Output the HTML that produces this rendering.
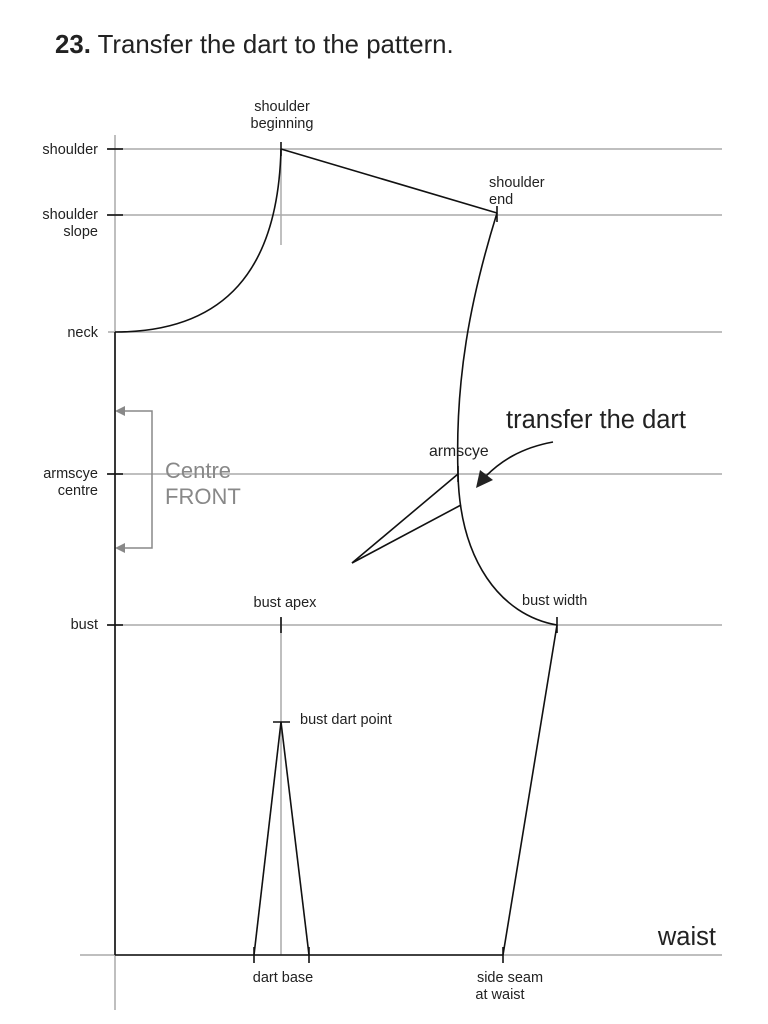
<!DOCTYPE html>
<html><head><meta charset="utf-8"><style>
html,body{margin:0;padding:0;background:#fff;}
svg{display:block;}
text{font-family:"Liberation Sans",Arial,sans-serif;fill:#222;}
</style></head><body>
<svg width="768" height="1024" viewBox="0 0 768 1024" xmlns="http://www.w3.org/2000/svg">
<text x="55" y="53" font-size="25.8"><tspan font-weight="bold">23.</tspan> Transfer the dart to the pattern.</text>
<g stroke="#aaa" stroke-width="1.5" fill="none">
<line x1="108" y1="149" x2="722" y2="149"/>
<line x1="108" y1="215" x2="722" y2="215"/>
<line x1="108" y1="332" x2="722" y2="332"/>
<line x1="108" y1="474" x2="722" y2="474"/>
<line x1="108" y1="625" x2="722" y2="625"/>
<line x1="80" y1="955" x2="722" y2="955"/>
<line x1="115" y1="135" x2="115" y2="1010"/>
<line x1="281" y1="149" x2="281" y2="245"/>
<line x1="281" y1="618" x2="281" y2="955"/>
<polyline points="122,411 152,411 152,548 122,548" stroke="#888"/>
</g>
<g fill="#888"><polygon points="115,411 125,406 125,416"/><polygon points="115,548 125,543 125,553"/></g>
<g stroke="#111" stroke-width="1.6" fill="none">
<line x1="107" y1="149" x2="123" y2="149"/>
<line x1="107" y1="215" x2="123" y2="215"/>
<line x1="107" y1="474" x2="123" y2="474"/>
<line x1="107" y1="625" x2="123" y2="625"/>
<line x1="115" y1="332" x2="115" y2="955"/>
<line x1="115" y1="955" x2="503" y2="955"/>
<path d="M115,332 C225,332 278,270 281,149"/>
<line x1="281" y1="149" x2="497" y2="213"/>
<path d="M497,213 C470,300 455,380 458,474 C460,560 500,615 557,625"/>
<line x1="458" y1="474" x2="352" y2="563"/>
<line x1="461" y1="505" x2="352" y2="563"/>
<line x1="557" y1="625" x2="503" y2="955"/>
<line x1="281" y1="722" x2="254" y2="955"/>
<line x1="281" y1="722" x2="309" y2="955"/>
<line x1="273" y1="722" x2="290" y2="722"/>
<line x1="281" y1="142" x2="281" y2="156"/>
<line x1="497" y1="206" x2="497" y2="222"/>
<line x1="458" y1="466" x2="458" y2="482"/>
<line x1="557" y1="617" x2="557" y2="633"/>
<line x1="281" y1="617" x2="281" y2="633"/>
<line x1="254" y1="947" x2="254" y2="963"/>
<line x1="309" y1="947" x2="309" y2="963"/>
<line x1="503" y1="947" x2="503" y2="963"/>
<path d="M553,442 C520,448 500,462 486,476"/>
</g>
<polygon points="476,488 480,470 493,480" fill="#222"/>
<g font-size="14.5">
<text x="98" y="154" text-anchor="end">shoulder</text>
<text x="98" y="219" text-anchor="end">shoulder</text>
<text x="98" y="236" text-anchor="end">slope</text>
<text x="98" y="337" text-anchor="end">neck</text>
<text x="98" y="478" text-anchor="end">armscye</text>
<text x="98" y="495" text-anchor="end">centre</text>
<text x="98" y="629" text-anchor="end">bust</text>
<text x="282" y="111" text-anchor="middle">shoulder</text>
<text x="282" y="128" text-anchor="middle">beginning</text>
<text x="489" y="187">shoulder</text>
<text x="489" y="204">end</text>
<text x="429" y="456" font-size="15.8">armscye</text>
<text x="522" y="605">bust width</text>
<text x="285" y="607" text-anchor="middle">bust apex</text>
<text x="300" y="724">bust dart point</text>
<text x="283" y="982" text-anchor="middle">dart base</text>
<text x="510" y="982" text-anchor="middle">side seam</text>
<text x="500" y="999" text-anchor="middle">at waist</text>
</g>
<text x="165" y="478" font-size="22" style="fill:#888">Centre</text>
<text x="165" y="504" font-size="22" style="fill:#888">FRONT</text>
<text x="506" y="428" font-size="25.5">transfer the dart</text>
<text x="716" y="945" font-size="25.5" text-anchor="end">waist</text>
</svg>
</body></html>
